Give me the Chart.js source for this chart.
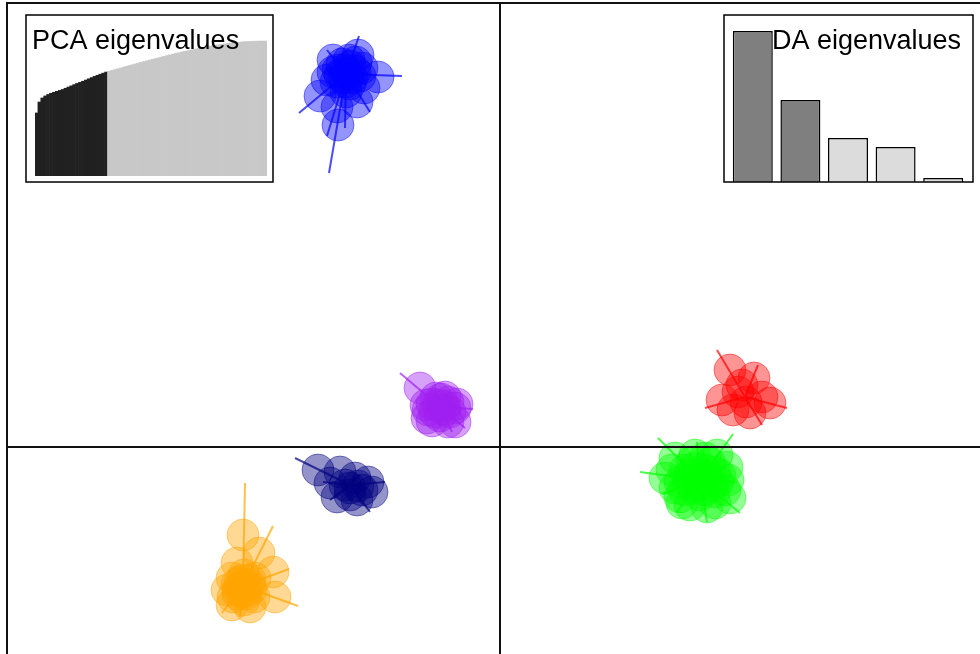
<!DOCTYPE html>
<html>
<head>
<meta charset="utf-8">
<script src="https://cdn.jsdelivr.net/npm/chart.js@4.4.1/dist/chart.umd.min.js"></script>
<style>
  html, body { margin: 0; padding: 0; background: #fff; overflow: hidden; }
  #wrap { position: relative; width: 980px; height: 654px; }
  canvas { position: absolute; background: #fff; }
  #main { left: 0; top: 0; }
  #pca { left: 25px; top: 14px; }
  #da { left: 723px; top: 14px; }
</style>
</head>
<body>
<div id="wrap">
  <canvas id="main" width="980" height="654"></canvas>
  <canvas id="pca" width="249" height="169"></canvas>
  <canvas id="da" width="251" height="169"></canvas>
</div>
<script>
// Discriminant function scores (LD1, LD2) of individuals, per cluster.
const cluster1Centre = [-3.08, 7.46];
const cluster1Scores = [
  [-3.24, 6.44], [-3.60, 7.02], [-3.26, 6.80], [-2.86, 6.90], [-2.44, 7.40],
  [-2.84, 7.84], [-3.34, 7.74], [-3.46, 7.34], [-2.72, 7.18],
  [-3.10, 7.54], [-3.00, 7.62], [-3.20, 7.44], [-2.96, 7.38], [-3.08, 7.30],
  [-3.16, 7.66], [-2.90, 7.52], [-3.04, 7.46], [-3.24, 7.54], [-3.00, 7.26],
  [-3.12, 7.38], [-2.88, 7.70], [-3.28, 7.30], [-3.02, 7.74], [-2.80, 7.42],
  [-3.34, 7.50], [-2.76, 7.58], [-3.08, 7.10]
];
const cluster1Tips = [
  [-4.02, 6.68], [-3.42, 5.48], [-1.96, 7.42], [-2.82, 8.22], [-3.46, 7.94],
  [-3.46, 6.22], [-2.60, 6.70], [-3.10, 6.38]
];

const cluster2Centre = [-1.20, 0.80];
const cluster2Scores = [
  [-1.60, 1.18], [-0.86, 0.86], [-0.90, 0.50], [-1.46, 0.58], [-1.10, 1.00],
  [-1.48, 0.84], [-1.04, 0.50], [-1.36, 0.52],
  [-1.24, 0.84], [-1.10, 0.74], [-1.30, 0.70], [-1.04, 0.90], [-1.18, 0.96],
  [-1.36, 0.86], [-1.00, 0.70], [-1.20, 0.62], [-1.12, 0.82], [-1.28, 0.98],
  [-0.90, 0.78], [-1.44, 0.74]
];
const cluster2Tips = [
  [-2.00, 1.48], [-0.54, 0.76], [-0.70, 0.38], [-0.96, 0.30]
];

const cluster3Centre = [-3.00, -0.76];
const cluster3Scores = [
  [-3.64, -0.46], [-3.20, -0.50], [-2.64, -0.70], [-2.86, -1.06], [-3.26, -1.00],
  [-3.40, -0.72], [-2.56, -0.90], [-3.00, -0.82], [-2.90, -0.62], [-3.10, -0.76],
  [-2.76, -0.86], [-3.00, -0.96], [-2.84, -0.78]
];
const cluster3Tips = [
  [-4.10, -0.22], [-2.30, -0.70], [-2.60, -1.30], [-3.40, -1.06], [-3.54, -0.70],
  [-2.80, -0.56]
];

const cluster4Centre = [-5.14, -2.78];
const cluster4Scores = [
  [-5.14, -1.76], [-4.82, -2.12], [-4.54, -2.50], [-4.50, -3.00], [-5.46, -2.86],
  [-5.26, -2.32], [-5.36, -3.16], [-5.00, -3.20],
  [-5.20, -2.70], [-5.08, -2.78], [-5.24, -2.86], [-5.00, -2.66], [-5.12, -2.90],
  [-5.26, -2.74], [-4.98, -2.84], [-5.14, -2.66], [-5.08, -2.94], [-5.20, -2.82],
  [-5.02, -2.74], [-5.24, -2.94],
  [-5.36, -2.62], [-4.90, -2.62], [-4.92, -3.00], [-5.34, -3.00], [-5.12, -2.56],
  [-5.12, -3.06]
];
const cluster4Tips = [
  [-5.10, -0.72], [-4.54, -1.58], [-4.22, -2.44], [-4.04, -3.18], [-5.56, -3.32],
  [-5.20, -3.40]
];

const cluster5Centre = [4.90, 1.00];
const cluster5Scores = [
  [4.60, 1.54], [5.08, 1.38], [4.44, 0.94], [5.40, 0.88], [5.00, 0.68],
  [5.24, 1.00], [4.76, 1.10], [4.92, 0.90], [4.66, 0.74], [4.84, 1.24]
];
const cluster5Tips = [
  [4.34, 1.94], [5.16, 1.64], [5.74, 0.78], [5.24, 0.44], [4.10, 0.78]
];

const cluster6Centre = [4.00, -0.66];
const cluster6Scores = [
  [3.50, -0.22], [4.34, -0.16], [3.30, -0.62], [4.60, -1.02], [3.60, -1.00],
  [4.14, -1.20], [4.54, -0.40], [3.80, -1.16],
  [3.70, -0.46], [3.90, -0.42], [4.10, -0.46], [4.30, -0.50], [3.76, -0.66],
  [3.96, -0.62], [4.16, -0.66], [4.36, -0.70], [3.68, -0.86], [3.88, -0.82],
  [4.08, -0.86], [4.28, -0.90], [3.84, -0.30], [4.20, -0.32], [4.00, -0.76],
  [3.80, -0.56], [4.24, -0.78], [4.00, -0.96], [3.60, -0.70], [4.40, -0.56],
  [3.44, -0.46], [4.56, -0.66], [3.64, -1.12], [4.30, -1.12], [3.90, -0.16],
  [4.50, -0.86], [3.50, -0.82], [4.10, -0.22]
];
const cluster6Tips = [
  [2.80, -0.50], [3.16, 0.18], [4.66, 0.26], [4.80, -1.32], [3.24, -0.94],
  [3.54, -1.30], [4.14, -1.50], [4.76, -0.70], [3.94, 0.10]
];

// Cumulative variance (%) of the PCA axes; the first 25 were retained.
const pcaCumVariance = [
  46.7, 54.8, 57.8, 59.3, 60.4, 61.3, 62.0, 62.7, 63.4, 64.1,
  65.0, 65.9, 66.8, 67.7, 68.6, 69.4, 70.2, 71.1, 72.0, 72.9,
  73.8, 74.6, 75.4, 76.2, 77.0, 77.6, 78.2, 78.8, 79.4, 80.0,
  80.6, 81.2, 81.8, 82.4, 83.0, 83.6, 84.2, 84.8, 85.3, 85.9,
  86.4, 87.0, 87.5, 88.1, 88.6, 89.2, 89.7, 90.2, 90.8, 91.3,
  91.8, 92.3, 92.7, 93.2, 93.6, 94.1, 94.5, 94.9, 95.4, 95.8,
  96.2, 96.6, 97.0, 97.3, 97.6, 97.9, 98.2, 98.4, 98.7, 98.9,
  99.1, 99.3, 99.5, 99.6, 99.7, 99.8, 99.9, 100.0, 100.0, 100.0
];
const pcaRetained = 25;

// Discriminant eigenvalues; the first 2 axes are shown.
const daEigenvalues = [151, 82, 44, 35, 4];
const daShown = 2;

// ---- drawing ----
const palette = ['0,0,255', '160,32,240', '0,0,128', '255,165,0', '255,0,0', '0,255,0'];
const clusters = [
  [cluster1Centre, cluster1Scores, cluster1Tips],
  [cluster2Centre, cluster2Scores, cluster2Tips],
  [cluster3Centre, cluster3Scores, cluster3Tips],
  [cluster4Centre, cluster4Scores, cluster4Tips],
  [cluster5Centre, cluster5Scores, cluster5Tips],
  [cluster6Centre, cluster6Scores, cluster6Tips]
];

const xy = p => ({ x: p[0], y: p[1] });
const painted = [];
clusters.forEach(([centre, scores, tips], i) => {
  const rgb = palette[i];
  // star: centre -> each tip -> back to centre
  const star = [];
  tips.forEach(t => { star.push(xy(centre), xy(t)); });
  star.push(xy(centre));
  painted.push({
    data: star, showLine: true, pointRadius: 0, borderWidth: 2,
    borderColor: `rgba(${rgb},0.7)`, tension: 0
  });
  painted.push({
    data: scores.map(xy), showLine: false, pointRadius: 16, pointBorderWidth: 1,
    pointBackgroundColor: `rgba(${rgb},0.42)`, pointBorderColor: `rgba(${rgb},0.45)`
  });
});
// Chart.js paints dataset 0 last, so reverse to keep the painting order above.
const mainDatasets = painted.reverse();

const axesPlugin = {
  id: 'axesCross',
  afterDatasetsDraw(chart) {
    const { ctx, chartArea: a, scales: { x, y } } = chart;
    const x0 = x.getPixelForValue(0), y0 = y.getPixelForValue(0);
    ctx.save();
    ctx.strokeStyle = '#111';
    ctx.lineWidth = 2;
    ctx.beginPath();
    ctx.moveTo(x0, a.top); ctx.lineTo(x0, a.bottom);
    ctx.moveTo(a.left, y0); ctx.lineTo(a.right, y0);
    ctx.moveTo(a.left, a.bottom); ctx.lineTo(a.left, a.top); ctx.lineTo(a.right + 2, a.top);
    ctx.stroke();
    ctx.restore();
  }
};

new Chart(document.getElementById('main'), {
  type: 'scatter',
  data: { datasets: mainDatasets },
  options: {
    responsive: false, animation: false, events: [],
    layout: { autoPadding: false, padding: { left: 7, top: 3, right: 0, bottom: 0 } },
    scales: {
      x: { type: 'linear', min: -9.86, max: 9.6, display: false },
      y: { type: 'linear', min: -4.14, max: 8.88, display: false }
    },
    plugins: { legend: { display: false }, tooltip: { enabled: false } }
  },
  plugins: [axesPlugin]
});

// Inset panels: framed bar charts with a caption on top of the bars.
const insetPlugin = {
  id: 'inset',
  afterDatasetsDraw(chart, args, opts) {
    const ctx = chart.ctx;
    ctx.save();
    ctx.fillStyle = '#000';
    ctx.font = '27px "Liberation Sans", Arial, sans-serif';
    ctx.textAlign = opts.align;
    ctx.textBaseline = 'alphabetic';
    ctx.fillText(opts.text, opts.x, opts.y);
    ctx.restore();
  },
  afterDraw(chart) {
    const ctx = chart.ctx;
    ctx.save();
    ctx.strokeStyle = '#000';
    ctx.lineWidth = 1.5;
    ctx.strokeRect(1, 1, chart.width - 2, chart.height - 2);
    ctx.restore();
  }
};

new Chart(document.getElementById('pca'), {
  type: 'bar',
  data: {
    labels: pcaCumVariance.map((_, i) => String(i + 1)),
    datasets: [{
      data: pcaCumVariance,
      backgroundColor: pcaCumVariance.map((_, i) => i < pcaRetained ? '#212121' : '#c8c8c8'),
      borderWidth: 0, barPercentage: 1, categoryPercentage: 1
    }]
  },
  options: {
    responsive: false, animation: false, events: [],
    layout: { padding: { left: 10, right: 7, top: 0, bottom: 7 } },
    scales: {
      x: { display: false },
      y: { display: false, min: 0, max: 120 }
    },
    plugins: {
      legend: { display: false }, tooltip: { enabled: false },
      inset: { text: 'PCA eigenvalues', x: 7, y: 35, align: 'left' }
    }
  },
  plugins: [insetPlugin]
});

new Chart(document.getElementById('da'), {
  type: 'bar',
  data: {
    labels: daEigenvalues.map((_, i) => String(i + 1)),
    datasets: [{
      data: daEigenvalues,
      backgroundColor: daEigenvalues.map((_, i) => i < daShown ? '#7f7f7f' : '#dcdcdc'),
      borderColor: '#000', borderWidth: 1.5,
      barPercentage: 0.84, categoryPercentage: 1
    }]
  },
  options: {
    responsive: false, animation: false, events: [],
    layout: { padding: { left: 6, right: 7, top: 0, bottom: 1 } },
    scales: {
      x: { display: false },
      y: { display: false, min: 0, max: 168 }
    },
    plugins: {
      legend: { display: false }, tooltip: { enabled: false },
      inset: { text: 'DA eigenvalues', x: 238, y: 34.5, align: 'right' }
    }
  },
  plugins: [insetPlugin]
});
</script>
</body>
</html>
